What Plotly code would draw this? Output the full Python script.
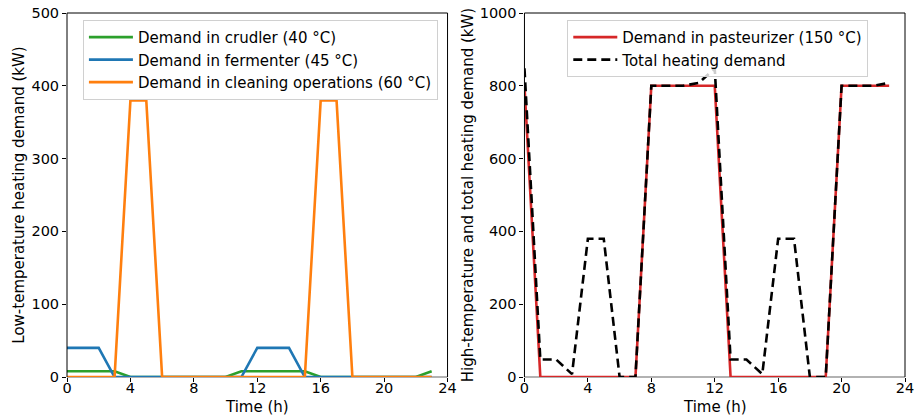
import plotly.graph_objects as go
from plotly.subplots import make_subplots

hours = list(range(24))
crudler = [8, 8, 8, 8, 0, 0, 0, 0, 0, 0, 0, 8, 8, 8, 8, 8, 0, 0, 0, 0, 0, 0, 0, 8]
fermenter = [40, 40, 40, 0, 0, 0, 0, 0, 0, 0, 0, 0, 40, 40, 40, 0, 0, 0, 0, 0, 0, 0, 0, 0]
cleaning = [0, 0, 0, 0, 380, 380, 0, 0, 0, 0, 0, 0, 0, 0, 0, 0, 380, 380, 0, 0, 0, 0, 0, 0]
pasteurizer = [800, 0, 0, 0, 0, 0, 0, 0, 800, 800, 800, 800, 800, 0, 0, 0, 0, 0, 0, 0, 800, 800, 800, 800]
total = [848, 48, 48, 8, 380, 380, 0, 0, 800, 800, 800, 808, 848, 48, 48, 8, 380, 380, 0, 0, 800, 800, 800, 808]

x_ticks = [0, 4, 8, 12, 16, 20, 24]
left_ticks = [0, 100, 200, 300, 400, 500]
right_ticks = [0, 200, 400, 600, 800, 1000]

FONT = "DejaVu Sans"
FS = 15
TFS = 14.5
fig = make_subplots(rows=1, cols=2, horizontal_spacing=0.0918)

lw = 2.6
fig.add_trace(go.Scatter(x=hours, y=crudler, mode="lines", name="Demand in crudler (40 °C)",
                         line=dict(color="#2ca02c", width=lw), legend="legend"), 1, 1)
fig.add_trace(go.Scatter(x=hours, y=fermenter, mode="lines", name="Demand in fermenter (45 °C)",
                         line=dict(color="#1f77b4", width=lw), legend="legend"), 1, 1)
fig.add_trace(go.Scatter(x=hours, y=cleaning, mode="lines", name="Demand in cleaning operations (60 °C)",
                         line=dict(color="#ff7f0e", width=lw), legend="legend"), 1, 1)
fig.add_trace(go.Scatter(x=hours, y=pasteurizer, mode="lines", name="Demand in pasteurizer (150 °C)",
                         line=dict(color="#d62728", width=lw), legend="legend2"), 1, 2)
fig.add_trace(go.Scatter(x=hours, y=total, mode="lines", name="Total heating demand",
                         line=dict(color="black", width=lw, dash="9px,5px"), legend="legend2"), 1, 2)

axis_common = dict(showgrid=False, zeroline=False, showline=False, ticks="outside",
                   ticklen=4, tickwidth=1, tickcolor="black", automargin=False,
                   ticklabeloverflow="allow",
                   tickfont=dict(family=FONT, size=TFS, color="black"))

for c in (1, 2):
    fig.update_xaxes(range=[0, 24], tickvals=x_ticks, **axis_common, ticklabelstandoff=-6,
                     row=1, col=c)
fig.update_yaxes(range=[0, 500], tickvals=left_ticks, **axis_common,
                 title=dict(text="Low-temperature heating demand (kW)",
                            font=dict(family=FONT, size=FS, color="black"), standoff=3),
                 row=1, col=1)
fig.update_yaxes(range=[0, 1000], tickvals=right_ticks, **axis_common,
                 title=dict(text="High-temperature and total heating demand (kW)",
                            font=dict(family=FONT, size=FS, color="black"), standoff=2),
                 row=1, col=2)

# x-axis titles placed as annotations for exact vertical position
for xr, yr in (("x", "y"), ("x2", "y2")):
    fig.add_annotation(text="Time (h)", xref=xr + " domain", yref=yr + " domain", x=0.5, y=0,
                       yanchor="middle", xanchor="center", yshift=-30, showarrow=False,
                       font=dict(family=FONT, size=FS, color="black"))

# frames
for xr, yr in (("x", "y"), ("x2", "y2")):
    fig.add_shape(type="line", xref=xr + " domain", yref=yr + " domain", x0=0, x1=0, y0=0, y1=1,
                  line=dict(color="black", width=1))
    fig.add_shape(type="line", xref=xr + " domain", yref=yr + " domain", x0=1, x1=1, y0=0, y1=1,
                  line=dict(color="black", width=1))
    fig.add_shape(type="line", xref=xr + " domain", yref=yr + " domain", x0=0, x1=1, y0=1, y1=1,
                  line=dict(color="black", width=1))
    fig.add_shape(type="line", xref=xr + " domain", yref=yr + " domain", x0=0, x1=1, y0=0, y1=0,
                  line=dict(color="#999999", width=1.5), layer="below")

legend_common = dict(bgcolor="rgba(255,255,255,0.8)", bordercolor="#d0d0d0", borderwidth=1,
                     font=dict(family=FONT, size=FS, color="black"), xanchor="left", yanchor="top",
                     itemwidth=44, tracegroupgap=0)
fig.update_layout(
    width=914, height=419,
    margin=dict(l=67, r=9, t=13, b=42, autoexpand=False),
    plot_bgcolor="white", paper_bgcolor="white",
    legend=dict(x=0.019, y=0.981, **legend_common),
    legend2=dict(x=0.597, y=0.981, **legend_common),
)

# remove the default page margin so the figure fills the window exactly
fig.write_html("out.html", config={"displayModeBar": False},
               post_script="document.body.style.margin='0';")
